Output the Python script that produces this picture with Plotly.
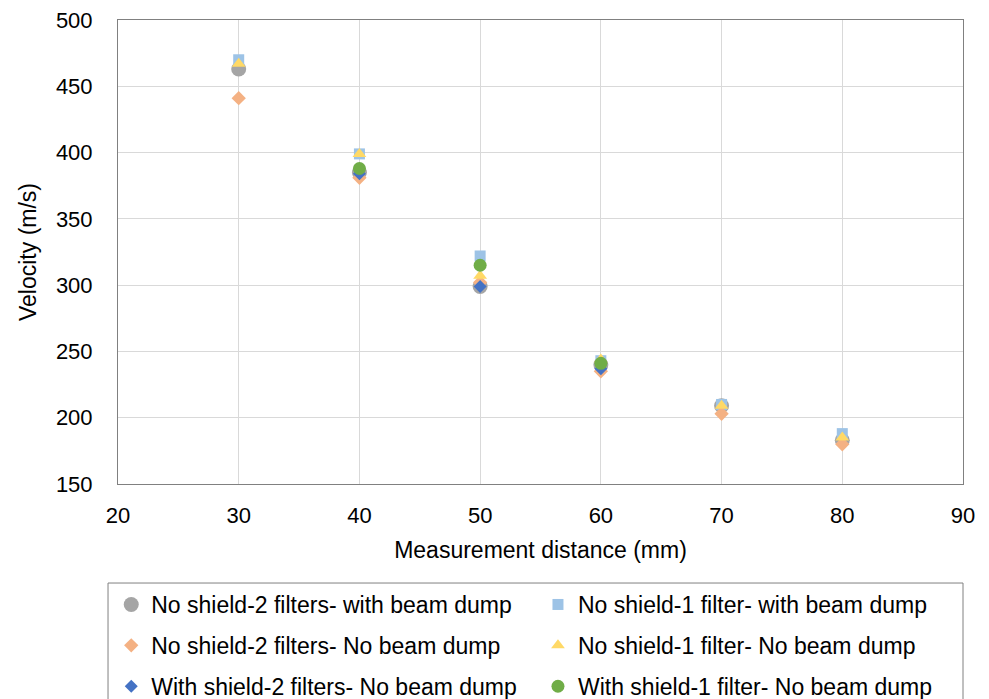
import plotly.graph_objects as go

distance = [30, 40, 50, 60, 70, 80]

series_names = [
    "No shield-2 filters- with beam dump",
    "No shield-1 filter- with beam dump",
    "No shield-2 filters- No beam dump",
    "No shield-1 filter- No beam dump",
    "With shield-2 filters- No beam dump",
    "With shield-1 filter- No beam dump",
]

noshield2_dump = [463, 385, 299, 240, 209, 183]
noshield1_dump = [470, 399, 322, 243, 210, 188]
noshield2_nodump = [441, 381, 302, 235, 203, 180]
noshield1_nodump = [467, 399, 307, 244, 209, 185]
shield2_nodump = [None, 384, 299, 237, None, None]
shield1_nodump = [None, 388, 315, 241, None, None]

values = [noshield2_dump, noshield1_dump, noshield2_nodump,
          noshield1_nodump, shield2_nodump, shield1_nodump]
colors = ["#A5A5A5", "#9DC3E6", "#F4B183", "#FFD966", "#4472C4", "#70AD47"]
symbols = ["circle", "square", "diamond", "triangle-up", "diamond", "circle"]
sizes = [15, 11, 11, 12, 10, 13]
legend_ids = ["legend", "legend2", "legend", "legend2", "legend", "legend2"]

fig = go.Figure()
for i, (name, vals, c, s, sz, lg) in enumerate(zip(series_names, values, colors, symbols, sizes, legend_ids)):
    fig.add_trace(go.Scatter(
        x=distance, y=vals, mode="markers", name=name,
        marker=dict(color=c, symbol=s, size=sz, line=dict(width=0)),
        legend=lg, legendgroup=f"g{i}",
    ))

FONT = "Liberation Sans"
axis_font = dict(family=FONT, size=22, color="#000000")
title_font = dict(family=FONT, size=23, color="#000000")
legend_common = dict(
    orientation="v", yanchor="top", y=-0.2134, xanchor="left",
    bgcolor="rgba(0,0,0,0)", borderwidth=0,
    font=dict(family=FONT, size=23, color="#000000"),
    tracegroupgap=8, itemwidth=30,
)
fig.update_layout(
    width=981, height=691,
    margin=dict(l=110, r=26, t=12, b=215, autoexpand=False),
    paper_bgcolor="white", plot_bgcolor="white",
    font=dict(family=FONT, size=20, color="#000000"),
    xaxis=dict(
        range=[20, 90], tickvals=[20, 30, 40, 50, 60, 70, 80, 90],
        showgrid=True, gridcolor="#D9D9D9", gridwidth=1,
        showline=True, linecolor="#808080", linewidth=1, mirror=True,
        zeroline=False, ticks="outside", ticklen=12, tickcolor="rgba(0,0,0,0)",
        tickfont=axis_font, ticklabeloverflow="allow",
        title=dict(text="Measurement distance (mm)", font=title_font, standoff=14),
    ),
    yaxis=dict(
        range=[150, 500], tickvals=[150, 200, 250, 300, 350, 400, 450, 500],
        showgrid=True, gridcolor="#D9D9D9", gridwidth=1,
        showline=True, linecolor="#808080", linewidth=1, mirror=True,
        zeroline=False, ticks="outside", ticklen=20, tickcolor="rgba(0,0,0,0)",
        tickfont=axis_font, ticklabeloverflow="allow",
        title=dict(text="Velocity (m/s)", font=title_font, standoff=12),
    ),
    legend=dict(x=-0.008, **legend_common),
    legend2=dict(x=0.497, **legend_common),
    shapes=[dict(type="rect", xref="paper", yref="paper",
                 x0=-0.0118, x1=1.0, y0=-0.2134, y1=-0.52,
                 line=dict(color="#808080", width=1), fillcolor="rgba(0,0,0,0)")],
)
fig.write_html("out.html")
